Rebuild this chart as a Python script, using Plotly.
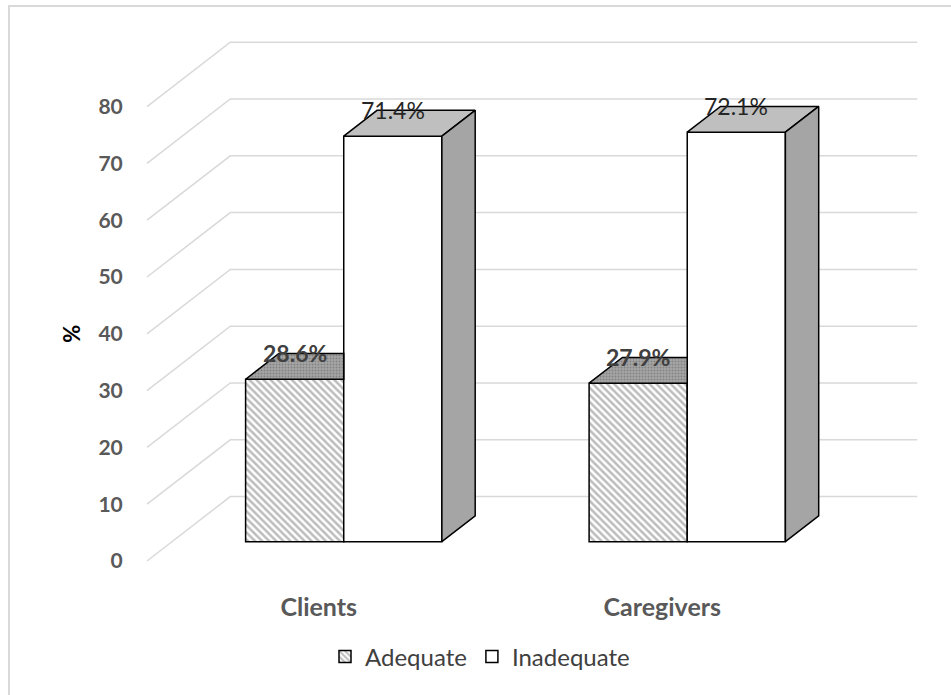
import plotly.graph_objects as go

# ---------------- data ----------------
categories = ["Clients", "Caregivers"]
adequate = [28.6, 27.9]
inadequate = [71.4, 72.1]
series_names = ["Adequate", "Inadequate"]
y_ticks = [0, 10, 20, 30, 40, 50, 60, 70, 80]

# ---------------- geometry (oblique 3-D look) ----------------
W, H = 951, 695
SX = 343.5          # px per category unit
SY = 5.68           # px per percent unit
DDX = 83.3 / SX     # full floor depth, x component (axis units)
DDY = 64.4 / SY     # full floor depth, y component (axis units)
T0, T1 = 0.30, 0.70 # bar front / back depth fraction
BW = 1 / 3.5        # bar width (gap width 150 %)
ML, MR, MT, MB = 140, 26, 30, 123
X_LEFT_PX, Y_ZERO_PX = 147, 561

def xpx(p):
    return -0.5 + (p - X_LEFT_PX) / SX

def ypx(p):
    return (Y_ZERO_PX - p) / SY

PW = W - ML - MR
PH = H - MT - MB
xr = [xpx(ML), xpx(W - MR)]
yr = [ypx(H - MB), ypx(MT)]

cat_pos = list(range(len(categories)))
n_cat = len(categories)
FONT = "Lato"

fig = go.Figure()

# front faces as bars
fx = T0 * DDX
base = T0 * DDY
fig.add_trace(go.Bar(
    x=cat_pos, y=adequate, base=base, width=BW, offset=fx - BW,
    name=series_names[0],
    marker=dict(color="white",
                pattern=dict(shape="\\", fgcolor="#7a7a7a", bgcolor="white", size=5, solidity=0.5),
                line=dict(color="black", width=1.5)),
    hoverinfo="skip"))
fig.add_trace(go.Bar(
    x=cat_pos, y=inadequate, base=base, width=BW, offset=fx,
    name=series_names[1],
    marker=dict(color="white", line=dict(color="black", width=1.5)),
    hoverinfo="skip"))

dX = (T1 - T0) * DDX
dY = (T1 - T0) * DDY

for i in cat_pos:
    # adequate top face (right part hidden by the neighbouring taller bar)
    x0 = i + fx - BW
    x1 = i + fx
    yt = adequate[i] + base
    if inadequate[i] >= adequate[i]:
        xs = [x0, x1, x1, x0 + dX, x0]
    else:
        xs = [x0, x1, x1 + dX, x0 + dX, x0]
    ys = [yt, yt, yt + dY, yt + dY, yt]
    fig.add_trace(go.Scatter(
        x=xs, y=ys, mode="lines", fill="toself", fillcolor="#9a9a9a",
        fillpattern=dict(shape=".", fgcolor="#606060", bgcolor="#a6a6a6", size=3, solidity=0.35),
        line=dict(color="black", width=1.5), showlegend=False, hoverinfo="skip"))
    # inadequate top face
    x0 = i + fx
    x1 = i + fx + BW
    yt = inadequate[i] + base
    fig.add_trace(go.Scatter(
        x=[x0, x1, x1 + dX, x0 + dX, x0], y=[yt, yt, yt + dY, yt + dY, yt],
        mode="lines", fill="toself", fillcolor="#bfbfbf",
        line=dict(color="black", width=1.5), showlegend=False, hoverinfo="skip"))
    # inadequate side face
    fig.add_trace(go.Scatter(
        x=[x1, x1 + dX, x1 + dX, x1, x1], y=[base, base + dY, yt + dY, yt, base],
        mode="lines", fill="toself", fillcolor="#a5a5a5",
        line=dict(color="black", width=1.5), showlegend=False, hoverinfo="skip"))

# gridlines on the side and back walls
shapes = []
for g in y_ticks:
    path = "M {a},{b} L {c},{d} L {e},{d}".format(
        a=-0.5, b=g, c=-0.5 + DDX, d=g + DDY, e=n_cat - 0.5 + DDX)
    shapes.append(dict(type="path", path=path, xref="x", yref="y", layer="below",
                       line=dict(color="#d9d9d9", width=1.5)))

# outer chart border
def px2paper_x(p):
    return (p - ML) / PW

def px2paper_y(p):
    return (H - MB - p) / PH

shapes.append(dict(type="rect", xref="paper", yref="paper",
                   x0=px2paper_x(9), x1=px2paper_x(962), y0=px2paper_y(706), y1=px2paper_y(6),
                   line=dict(color="#d9d9d9", width=2), fillcolor="rgba(0,0,0,0)", layer="below"))

annotations = []
for i in cat_pos:
    annotations.append(dict(
        x=i + fx - BW / 2, y=adequate[i] + T1 * DDY, xref="x", yref="y",
        text=f"{adequate[i]:.1f}%", showarrow=False, xanchor="center", yanchor="middle",
        font=dict(family=FONT, size=23, color="#404040", weight="bold")))
    annotations.append(dict(
        x=i + fx + BW / 2, y=inadequate[i] + T1 * DDY, xref="x", yref="y",
        text=f"{inadequate[i]:.1f}%", showarrow=False, xanchor="center", yanchor="middle",
        font=dict(family=FONT, size=23, color="#262626")))
annotations.append(dict(
    x=px2paper_x(72), y=40, xref="paper", yref="y", text="%", textangle=-90,
    showarrow=False, xanchor="center", yanchor="middle",
    font=dict(family=FONT, size=22, color="black", weight="bold")))

fig.update_layout(
    width=W, height=H,
    margin=dict(l=ML, r=MR, t=MT, b=MB, pad=0),
    paper_bgcolor="white", plot_bgcolor="rgba(0,0,0,0)",
    barmode="overlay",
    shapes=shapes, annotations=annotations,
    xaxis=dict(range=xr, tickvals=cat_pos, ticktext=categories, showgrid=False,
               zeroline=False, showline=False, ticks="outside", ticklen=13,
               tickcolor="rgba(0,0,0,0)",
               tickfont=dict(family=FONT, size=25, color="#595959", weight="bold"),
               fixedrange=True),
    yaxis=dict(range=yr, tickvals=y_ticks, showgrid=False, zeroline=False,
               showline=False, ticks="outside", ticklen=12, tickcolor="rgba(0,0,0,0)",
               tickfont=dict(family=FONT, size=21, color="#595959", weight="bold"),
               fixedrange=True),
    legend=dict(orientation="h", xref="container", yref="container",
                x=480 / W, y=1 - 657 / H, xanchor="center", yanchor="middle",
                font=dict(family=FONT, size=24, color="#404040"),
                bgcolor="rgba(0,0,0,0)", itemwidth=30),
    showlegend=True,
)

fig.write_html("out.html")
